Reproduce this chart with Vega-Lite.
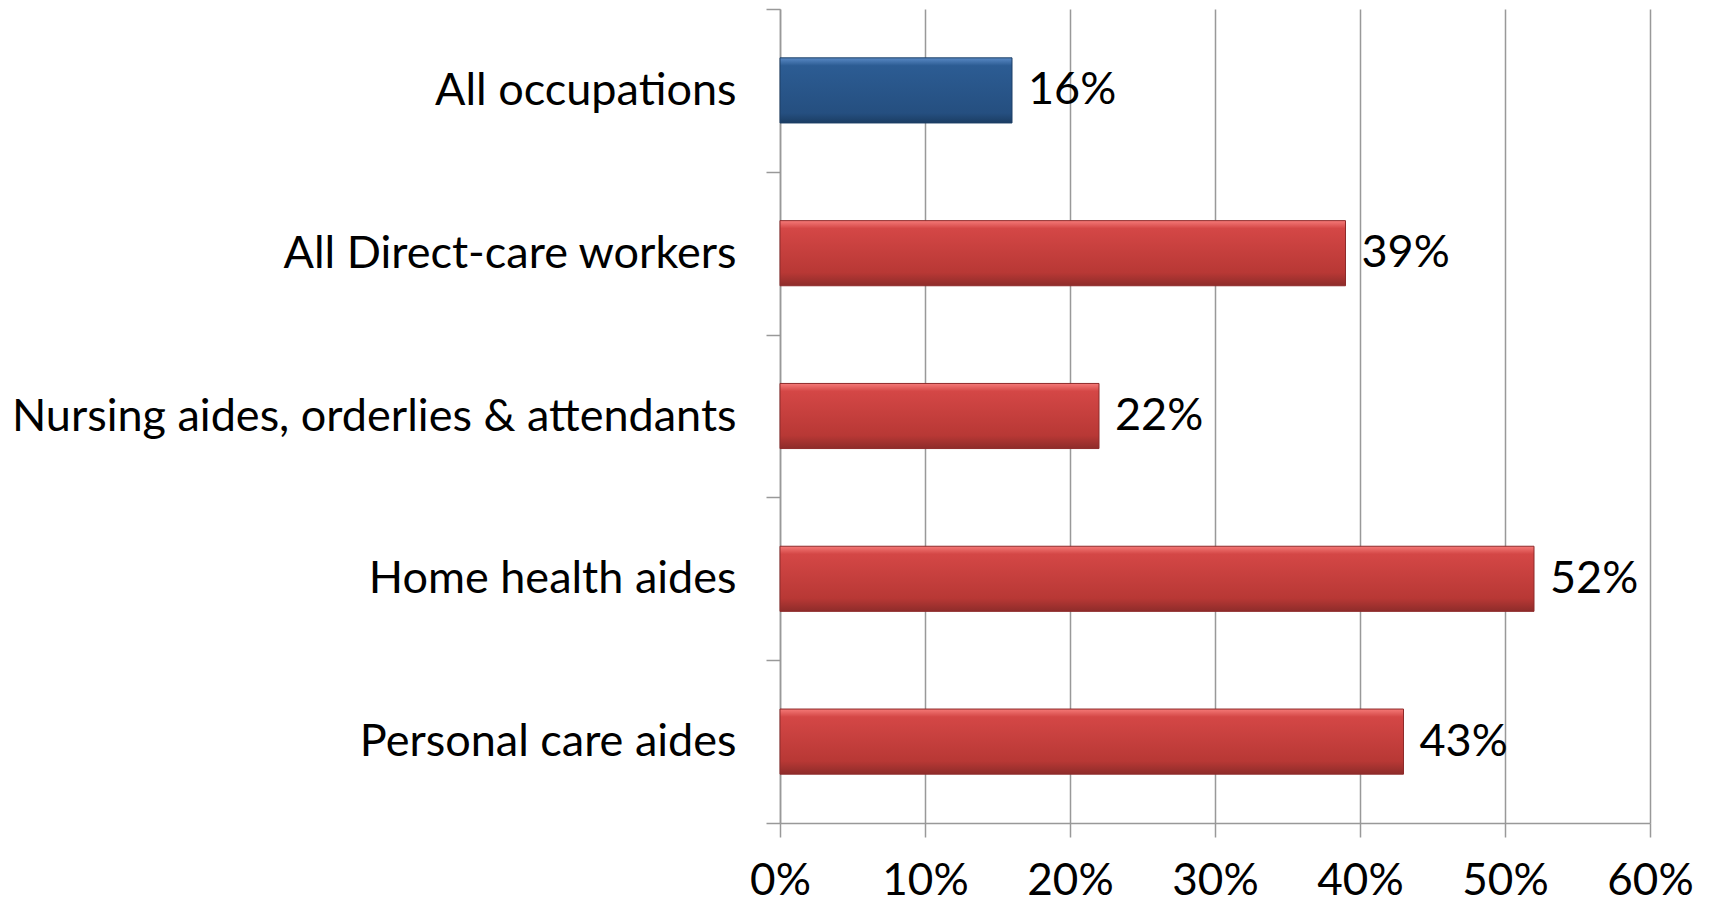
{
  "$schema": "https://vega.github.io/schema/vega-lite/v6.json",
  "width": 870,
  "height": 814,
  "autosize": {"type": "none"},
  "padding": {"left": 780, "top": 9, "right": 59, "bottom": 81},
  "background": "white",
  "config": {"view": {"stroke": null}, "font": "Lato"},
  "data": {"values": [
    {"occupation": "All occupations", "pct": 0.16, "group": "all"},
    {"occupation": "All Direct-care workers", "pct": 0.39, "group": "dcw"},
    {"occupation": "Nursing aides, orderlies & attendants", "pct": 0.22, "group": "dcw"},
    {"occupation": "Home health aides", "pct": 0.52, "group": "dcw"},
    {"occupation": "Personal care aides", "pct": 0.43, "group": "dcw"}
  ]},
  "encoding": {
    "y": {"field": "occupation", "type": "nominal", "sort": null,
      "scale": {"paddingInner": 0, "paddingOuter": 0},
      "axis": {"title": null, "labelFontSize": 45, "labelColor": "black", "labelFont": "Lato",
        "tickBand": "extent", "tickSize": 14, "tickColor": "#999999", "tickWidth": 1.5,
        "domainColor": "#999999", "domainWidth": 1.5, "labelPadding": 30, "grid": false, "labelLimit": 800}},
    "x": {"field": "pct", "type": "quantitative",
      "scale": {"domain": [0, 0.6]},
      "axis": {"title": null, "format": ".0%", "values": [0, 0.1, 0.2, 0.3, 0.4, 0.5, 0.6],
        "labelFontSize": 44, "labelColor": "black", "labelFont": "Lato", "labelFlush": false,
        "tickSize": 14, "tickColor": "#999999", "tickWidth": 1.5,
        "domainColor": "#999999", "domainWidth": 1.5,
        "grid": true, "gridColor": "#999999", "gridWidth": 1.5, "labelPadding": 22}}
  },
  "layer": [
    {
      "transform": [{"filter": "datum.group == 'all'"}],
      "mark": {"type": "bar", "height": {"band": 0.4}, "stroke": "#1c3f66", "strokeWidth": 1,
        "color": {"gradient": "linear", "x1": 0, "y1": 0, "x2": 0, "y2": 1,
          "stops": [{"offset": 0, "color": "#5a8ac6"}, {"offset": 0.12, "color": "#2c5c93"}, {"offset": 0.85, "color": "#254f80"}, {"offset": 1, "color": "#1b3d63"}]}}
    },
    {
      "transform": [{"filter": "datum.group == 'dcw'"}],
      "mark": {"type": "bar", "height": {"band": 0.4}, "stroke": "#8e2a2a", "strokeWidth": 1,
        "color": {"gradient": "linear", "x1": 0, "y1": 0, "x2": 0, "y2": 1,
          "stops": [{"offset": 0, "color": "#f57a78"}, {"offset": 0.12, "color": "#d44746"}, {"offset": 0.8, "color": "#b83835"}, {"offset": 1, "color": "#8e2c2a"}]}}
    },
    {
      "mark": {"type": "text", "align": "left", "baseline": "middle", "dx": 16, "fontSize": 45, "font": "Lato", "color": "black"},
      "encoding": {"text": {"field": "pct", "type": "quantitative", "format": ".0%"}}
    }
  ]
}
